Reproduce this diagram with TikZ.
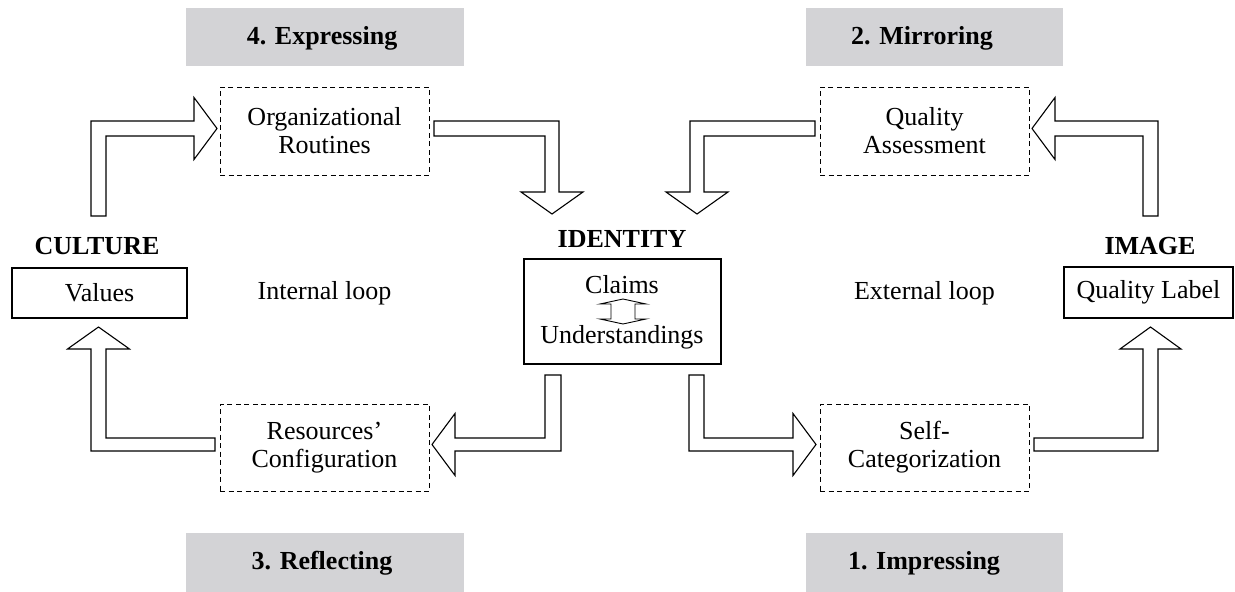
\documentclass[tikz,border=0pt]{standalone}
\usepackage{fontspec}
\setmainfont{Liberation Serif}
\definecolor{boxgray}{RGB}{211,211,214}
\begin{document}
\begin{tikzpicture}[x=1pt,y=-1pt,
  txt/.style={font=\fontsize{26}{28}\selectfont, inner sep=0pt},
  hdr/.style={font=\fontsize{26}{28}\selectfont\bfseries, inner sep=0pt},
  graybox/.style={fill=boxgray, draw=none},
  solidbox/.style={draw=black, line width=1.1pt, inner sep=0pt, font=\fontsize{26}{28}\selectfont},
  dbox/.style={draw=black, line width=0.9pt, dash pattern=on 5pt off 3.5pt, inner sep=0pt,
    align=center, minimum width=209pt, minimum height=88pt, font=\fontsize{26}{28}\selectfont},
  blockarrow/.style={draw=black, fill=white, line width=1.1pt, line join=miter}]
\useasboundingbox (0,0) rectangle (1235,592);

% gray stage boxes
\fill[graybox] (186,8) rectangle (464,66);
\fill[graybox] (806,8) rectangle (1063,66);
\fill[graybox] (186,533) rectangle (464,592);
\fill[graybox] (806,533) rectangle (1063,592);
\node[hdr] (expr) at (322,38) {4. Expressing};
\node[hdr] (mirr) at (922,38) {2. Mirroring};
\node[hdr] (refl) at (322,563) {3. Reflecting};
\node[hdr] (impr) at (924,563) {1. Impressing};

% main boxes
\node[solidbox, minimum width=175pt, minimum height=50pt] (values) at (99.5,293) {Values};
\node[solidbox, minimum width=169pt, minimum height=51pt] (qlabel) at (1148.5,292.5) {Quality Label};
\node[solidbox, minimum width=197pt, minimum height=105pt] (identity) at (622.5,311.5) {};
\node[hdr] (culture) at (97,246) {CULTURE};
\node[hdr] (image) at (1150,246) {IMAGE};
\node[hdr] (identlbl) at (622,239) {IDENTITY};
\node[txt] (claims) at (622,285) {Claims};
\node[txt] (underst) at (622,337) {Understandings};
\node[txt] (intloop) at (324.5,293) {Internal loop};
\node[txt] (extloop) at (924.5,293) {External loop};

% dashed boxes
\node[dbox] (org) at (324.5,131) {Organizational\\Routines};
\node[dbox] (qa) at (924.5,131) {Quality\\Assessment};
\node[dbox, minimum height=87pt] (res) at (324.5,447.5) {Resources'\\Configuration};
\node[dbox, minimum height=87pt] (selfcat) at (924.5,447.5) {Self-\\Categorization};

% double arrow claims <-> understandings
\draw[blockarrow, line width=0.9pt] (623,299) -- (646,304) -- (635,304) -- (635,319) -- (646,319)
  -- (623,324) -- (600,319) -- (611,319) -- (611,304) -- (600,304) -- cycle;

% A: values -> organizational routines
\draw[blockarrow] (91,216) -- (91,121) -- (194,121) -- (194,97.5) -- (217,128.5)
  -- (194,159.5) -- (194,136) -- (106,136) -- (106,216) -- cycle;
% B: organizational routines -> identity
\draw[blockarrow] (434,121) -- (559,121) -- (559,192) -- (583,192) -- (552,214)
  -- (521,192) -- (545,192) -- (545,136) -- (434,136) -- cycle;
% C: quality assessment -> identity
\draw[blockarrow] (815,121) -- (690,121) -- (690,192) -- (666,192) -- (697,214)
  -- (728,192) -- (704,192) -- (704,136) -- (815,136) -- cycle;
% D: quality label -> quality assessment
\draw[blockarrow] (1143,216) -- (1143,136) -- (1055,136) -- (1055,159.5) -- (1032,128.5)
  -- (1055,97.5) -- (1055,121) -- (1158,121) -- (1158,216) -- cycle;
% E: identity -> resources' configuration
\draw[blockarrow] (545,375) -- (561,375) -- (561,451) -- (455,451) -- (455,475.5) -- (432,444.5)
  -- (455,413.5) -- (455,438) -- (545,438) -- cycle;
% F: identity -> self-categorization
\draw[blockarrow] (689,375) -- (704,375) -- (704,438) -- (793,438) -- (793,413.5) -- (816,444.5)
  -- (793,475.5) -- (793,451) -- (689,451) -- cycle;
% G: resources' configuration -> values
\draw[blockarrow] (215,438) -- (106,438) -- (106,349) -- (129.5,349) -- (98.5,327)
  -- (67.5,349) -- (91,349) -- (91,451) -- (215,451) -- cycle;
% H: self-categorization -> quality label
\draw[blockarrow] (1034,438) -- (1143,438) -- (1143,349) -- (1120,349) -- (1150.5,327)
  -- (1181,349) -- (1158,349) -- (1158,451) -- (1034,451) -- cycle;
\end{tikzpicture}
\end{document}
